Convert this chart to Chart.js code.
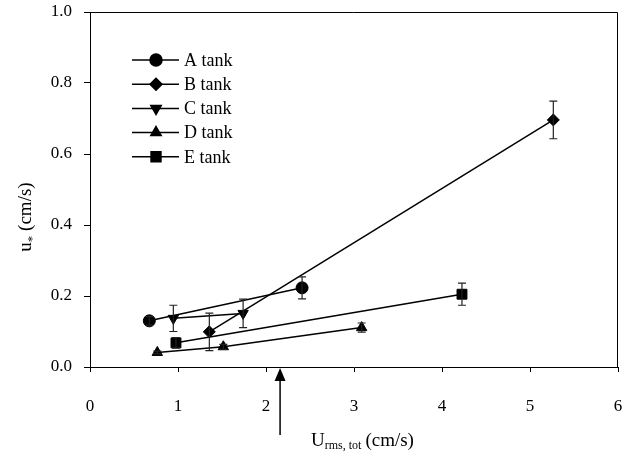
<!DOCTYPE html>
<html>
<head>
<meta charset="utf-8">
<script src="https://cdn.jsdelivr.net/npm/chart.js@4/dist/chart.umd.min.js"></script>
<style>
  body { margin: 0; background: #fff; }
  canvas { display: block; }
</style>
</head>
<body>
<canvas id="chart" width="636" height="455"></canvas>
<script>
// ---------- Data ----------
const tankNames = ["A tank", "B tank", "C tank", "D tank", "E tank"];

const aX = [0.674, 2.41];
const aY = [0.130, 0.223];
const aErr = [0.012, 0.031];

const bX = [1.356, 5.265];
const bY = [0.099, 0.696];
const bErr = [0.053, 0.053];

const cX = [0.947, 1.74];
const cY = [0.137, 0.151];
const cErr = [0.037, 0.040];

const dX = [0.765, 1.515, 3.087];
const dY = [0.041, 0.057, 0.111];
const dErr = [0.004, 0.007, 0.013];

const eX = [0.977, 4.227];
const eY = [0.068, 0.205];
const eErr = [0.015, 0.031];

const xTicks = [0, 1, 2, 3, 4, 5, 6];
const yTicks = [0, 0.2, 0.4, 0.6, 0.8, 1.0];
const arrowX = 2.16; // marker arrow under the x axis

// ---------- Helpers ----------
const SERIF = "'Liberation Serif', 'DejaVu Serif', serif";

function toPoints(xs, ys) {
  return xs.map((x, i) => ({ x: x, y: ys[i] }));
}

function makeSet(i, xs, ys, err, style, rot) {
  return {
    label: tankNames[i],
    data: toPoints(xs, ys),
    err: err,
    showLine: true,
    borderColor: "#000",
    backgroundColor: "#000",
    borderWidth: 1.5,
    pointStyle: style,
    pointRotation: rot || 0,
    pointRadius: style === "rect" ? 7 : 6,
    pointBorderWidth: 1,
    tension: 0
  };
}

const datasets = [
  makeSet(0, aX, aY, aErr, "circle"),
  makeSet(1, bX, bY, bErr, "rectRot"),
  makeSet(2, cX, cY, cErr, "triangle", 180),
  makeSet(3, dX, dY, dErr, "triangle"),
  makeSet(4, eX, eY, eErr, "rect")
];

// ---------- Extras: error bars, frame, legend, titles, arrow ----------
const extras = {
  id: "extras",
  afterDatasetsDraw(chart) {
    const ctx = chart.ctx;
    const xs = chart.scales.x, ys = chart.scales.y;
    ctx.save();
    ctx.strokeStyle = "#222";
    ctx.lineWidth = 1.2;
    chart.data.datasets.forEach(ds => {
      ds.data.forEach((p, i) => {
        const e = ds.err[i];
        if (!e) return;
        const px = xs.getPixelForValue(p.x);
        const top = ys.getPixelForValue(p.y + e);
        const bot = ys.getPixelForValue(p.y - e);
        ctx.beginPath();
        ctx.moveTo(px, top); ctx.lineTo(px, bot);
        ctx.moveTo(px - 4, top); ctx.lineTo(px + 4, top);
        ctx.moveTo(px - 4, bot); ctx.lineTo(px + 4, bot);
        ctx.stroke();
      });
    });
    ctx.restore();
  },
  afterDraw(chart) {
    const ctx = chart.ctx;
    const a = chart.chartArea;
    const xs = chart.scales.x;
    ctx.save();

    // top and right border of plot
    ctx.strokeStyle = "#000";
    ctx.lineWidth = 1;
    ctx.beginPath();
    ctx.moveTo(a.left, a.top + 0.5);
    ctx.lineTo(a.right - 0.5, a.top + 0.5);
    ctx.lineTo(a.right - 0.5, a.bottom);
    ctx.stroke();

    // legend inside plot
    ctx.font = "18px " + SERIF;
    ctx.textBaseline = "middle";
    ctx.fillStyle = "#000";
    chart.data.datasets.forEach((ds, i) => {
      const y = 60 + i * 24.2;
      ctx.strokeStyle = "#000";
      ctx.lineWidth = 1.5;
      ctx.beginPath();
      ctx.moveTo(132, y); ctx.lineTo(179, y);
      ctx.stroke();
      Chart.helpers.drawPoint(ctx, {
        pointStyle: ds.pointStyle,
        rotation: ds.pointRotation,
        radius: ds.pointRadius,
        borderWidth: 1
      }, 156, y);
      ctx.fill();
      ctx.fillText(ds.label, 184, y + 1);
    });

    // x axis title: U_{rms, tot} (cm/s)
    ctx.textBaseline = "alphabetic";
    ctx.textAlign = "left";
    let x = 311;
    const base = 446;
    ctx.font = "19px " + SERIF;
    ctx.fillText("U", x, base);
    x += ctx.measureText("U").width;
    ctx.font = "12px " + SERIF;
    ctx.fillText("rms, tot", x, base + 3);
    x += ctx.measureText("rms, tot").width + 4;
    ctx.font = "19px " + SERIF;
    ctx.fillText("(cm/s)", x, base);

    // y axis title: u_* (cm/s), rotated
    ctx.save();
    ctx.translate(31, 217);
    ctx.rotate(-Math.PI / 2);
    ctx.font = "19px " + SERIF;
    const w1 = ctx.measureText("u").width;
    ctx.font = "13px " + SERIF;
    const w2 = ctx.measureText("*").width;
    ctx.font = "19px " + SERIF;
    const w3 = ctx.measureText(" (cm/s)").width;
    let yx = -(w1 + w2 + w3) / 2;
    ctx.fillText("u", yx, 0);
    yx += w1;
    ctx.font = "13px " + SERIF;
    ctx.fillText("*", yx, 5);
    yx += w2;
    ctx.font = "19px " + SERIF;
    ctx.fillText(" (cm/s)", yx, 0);
    ctx.restore();

    // arrow below x axis
    const ax = xs.getPixelForValue(arrowX);
    ctx.strokeStyle = "#000";
    ctx.lineWidth = 1.5;
    ctx.beginPath();
    ctx.moveTo(ax, 378); ctx.lineTo(ax, 435);
    ctx.stroke();
    ctx.beginPath();
    ctx.moveTo(ax, 368);
    ctx.lineTo(ax - 5.5, 381);
    ctx.lineTo(ax + 5.5, 381);
    ctx.closePath();
    ctx.fill();

    ctx.restore();
  }
};

// ---------- Chart ----------
const tickFont = { family: SERIF, size: 17 };

new Chart(document.getElementById("chart"), {
  type: "scatter",
  data: { datasets },
  plugins: [extras],
  options: {
    responsive: false,
    animation: false,
    layout: { padding: { top: 12, right: 18, left: 0, bottom: 0 } },
    plugins: { legend: { display: false }, tooltip: { enabled: false } },
    scales: {
      x: {
        type: "linear",
        min: 0, max: 6,
        afterFit: s => { s.height = 88; s.paddingLeft = 0; s.paddingRight = 0; },
        afterBuildTicks: s => { s.ticks = xTicks.map(v => ({ value: v })); },
        ticks: { font: tickFont, color: "#000", padding: 24, callback: v => String(v) },
        grid: { drawOnChartArea: false, drawTicks: true, tickLength: 5, color: "#000" },
        border: { display: true, color: "#000", width: 1 }
      },
      y: {
        type: "linear",
        min: 0, max: 1,
        afterFit: s => { s.width = 90; s.paddingTop = 0; s.paddingBottom = 0; },
        afterBuildTicks: s => { s.ticks = yTicks.map(v => ({ value: v })); },
        ticks: { font: tickFont, color: "#000", padding: 12, callback: v => v.toFixed(1) },
        grid: { drawOnChartArea: false, drawTicks: true, tickLength: 6, color: "#000" },
        border: { display: true, color: "#000", width: 1 }
      }
    }
  }
});
</script>
</body>
</html>
